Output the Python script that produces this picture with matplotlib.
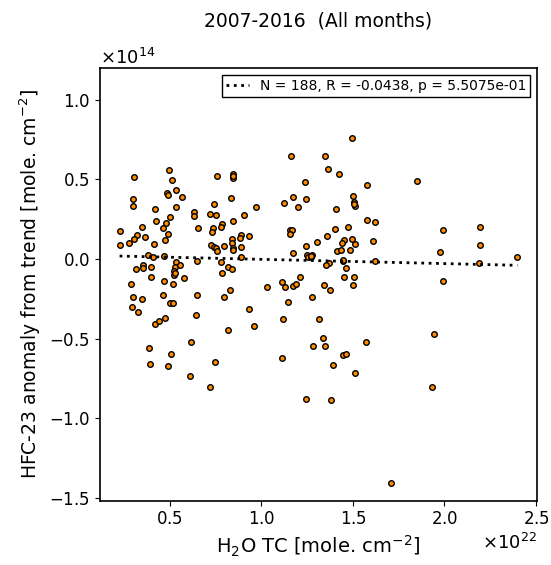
import numpy as np
import matplotlib
matplotlib.use("Agg")
import matplotlib.pyplot as plt

# H2O total column [x1e22 molec/cm2] and HFC-23 anomaly [x1e14 molec/cm2]
h2o = np.array([
    0.305, 0.494, 0.509, 0.483, 0.489, 0.534, 0.565, 0.299, 0.299, 0.534,
    0.421, 0.500, 0.423, 0.480, 0.463, 0.489, 0.472, 0.225, 0.347, 0.318,
    0.301, 0.363, 0.225, 0.276, 0.412, 0.758, 0.844, 0.844, 0.835, 0.740,
    0.633, 0.633, 0.717, 0.753, 0.844, 0.651, 0.733, 0.729, 0.784, 0.777,
    0.839, 0.890, 0.882, 0.724, 0.742, 0.751, 0.797, 0.839, 0.842, 0.846,
    0.890, 0.758,
    0.380, 0.405, 0.465, 0.886, 0.649, 0.779, 0.533, 0.525, 0.556, 0.523,
    0.523, 0.316, 0.352, 0.352, 0.396, 0.819, 0.839, 0.784, 0.398, 0.576,
    0.469, 0.516, 0.289, 0.296, 0.349, 0.463, 0.649, 0.797, 0.830, 0.290,
    0.325, 0.498, 0.518, 0.421, 0.438, 0.474, 0.645, 0.815, 0.616, 0.383,
    0.505, 0.392, 0.492, 0.744, 0.607, 0.718,
    1.496, 1.161, 1.349, 1.365, 1.423, 1.238, 1.575, 1.174, 1.502, 1.507,
    1.509, 1.125, 1.201, 1.241, 0.970, 0.902, 1.409, 1.576, 1.622, 1.156,
    1.167, 1.157, 1.403, 1.471, 0.930, 1.360, 1.496, 1.452, 1.442, 1.511,
    1.301, 1.607, 1.243, 1.484, 1.412, 1.436,
    1.170, 1.247, 1.276, 1.254, 1.270, 1.367, 1.351, 1.447, 1.462, 1.622,
    1.452, 1.507, 1.498, 1.208, 1.112, 1.128, 1.170, 1.188, 1.032, 1.340,
    1.376, 1.274, 1.143, 0.932, 0.959, 1.119, 1.312, 1.334, 1.281, 1.347,
    1.569, 1.443, 1.462, 1.112, 1.392, 1.509,
    1.243, 1.381, 1.707,
    1.848, 1.992, 2.196, 2.196,
    1.977, 2.187, 2.398, 1.992, 1.944, 1.932,
    1.448, 1.508, 0.844, 0.525, 1.270,
])
hfc23 = np.array([
    0.516, 0.556, 0.498, 0.416, 0.402, 0.435, 0.389, 0.379, 0.331, 0.329,
    0.312, 0.267, 0.237, 0.229, 0.194, 0.158, 0.121, 0.177, 0.202, 0.152,
    0.127, 0.137, 0.087, 0.098, 0.092, 0.521, 0.531, 0.510, 0.383, 0.344,
    0.298, 0.273, 0.285, 0.277, 0.239, 0.198, 0.198, 0.167, 0.217, 0.200,
    0.125, 0.150, 0.131, 0.089, 0.077, 0.071, 0.085, 0.102, 0.069, 0.056,
    0.077, 0.048,
    0.027, 0.014, 0.019, 0.010, -0.011, -0.019, -0.017, -0.048, -0.038, -0.073,
    -0.098, -0.061, -0.036, -0.056, -0.050, -0.052, -0.065, -0.088, -0.113, -0.119,
    -0.136, -0.156, -0.159, -0.236, -0.248, -0.223, -0.225, -0.238, -0.196, -0.300,
    -0.334, -0.273, -0.275, -0.409, -0.386, -0.371, -0.350, -0.446, -0.521, -0.559,
    -0.596, -0.661, -0.671, -0.646, -0.734, -0.802,
    0.762, 0.648, 0.648, 0.567, 0.531, 0.485, 0.462, 0.392, 0.398, 0.358,
    0.331, 0.350, 0.325, 0.375, 0.325, 0.275, 0.317, 0.248, 0.235, 0.183,
    0.183, 0.160, 0.187, 0.204, 0.142, 0.144, 0.127, 0.121, 0.098, 0.094,
    0.106, 0.112, 0.079, 0.054, 0.050, 0.054,
    0.039, 0.027, 0.027, 0.010, 0.010, -0.023, -0.038, -0.011, -0.054, -0.015,
    -0.113, -0.111, -0.163, -0.115, -0.142, -0.175, -0.167, -0.156, -0.177, -0.165,
    -0.194, -0.236, -0.267, -0.313, -0.419, -0.375, -0.377, -0.496, -0.548, -0.548,
    -0.517, -0.600, -0.598, -0.621, -0.667, -0.713,
    -0.879, -0.881, -1.404,
    0.487, 0.183, 0.204, 0.087,
    0.042, -0.025, 0.012, -0.140, -0.469, -0.802,
    -0.005, 0.345, 0.520, -0.085, 0.020,
])

x = h2o * 1e22
y = hfc23 * 1e14

legend_label = "N = 188, R = -0.0438, p = 5.5075e-01"

fig = plt.figure(figsize=(5.51, 5.65), dpi=100)
ax = fig.add_axes([0.181, 0.114, 0.794, 0.766])

ax.plot(x, y, 'o', markersize=4, markerfacecolor='darkorange',
        markeredgecolor='black', markeredgewidth=1.0, zorder=2)

# linear fit drawn over the points
coef = np.polyfit(x, y, 1)
xf = np.array([x.min(), x.max()])
ax.plot(xf, np.polyval(coef, xf), ':', color='black', linewidth=2,
        label=legend_label, zorder=3)

ax.set_ylim(-1.515e14, 1.2e14)
ax.set_xticks([0.5e22, 1.0e22, 1.5e22, 2.0e22, 2.5e22])
ax.set_yticks([-1.5e14, -1.0e14, -0.5e14, 0.0, 0.5e14, 1.0e14])
ax.ticklabel_format(style='sci', scilimits=(0, 0), useMathText=True)
ax.tick_params(labelsize=12)
ax.xaxis.get_offset_text().set_fontsize(13)
ax.yaxis.get_offset_text().set_fontsize(13)

ax.set_xlabel(r'H$_2$O TC [mole. cm$^{-2}$]', fontsize=14)
ax.set_ylabel(r'HFC-23 anomaly from trend [mole. cm$^{-2}$]', fontsize=13.5)
ax.set_title('2007-2016  (All months)', fontsize=13.5, pad=30)

ax.legend(loc='upper right', fontsize=10, fancybox=False, edgecolor='black',
          handlelength=1.6, borderpad=0.3, framealpha=1)

for s in ax.spines.values():
    s.set_linewidth(1.2)

fig.savefig('out.png', dpi=100)
